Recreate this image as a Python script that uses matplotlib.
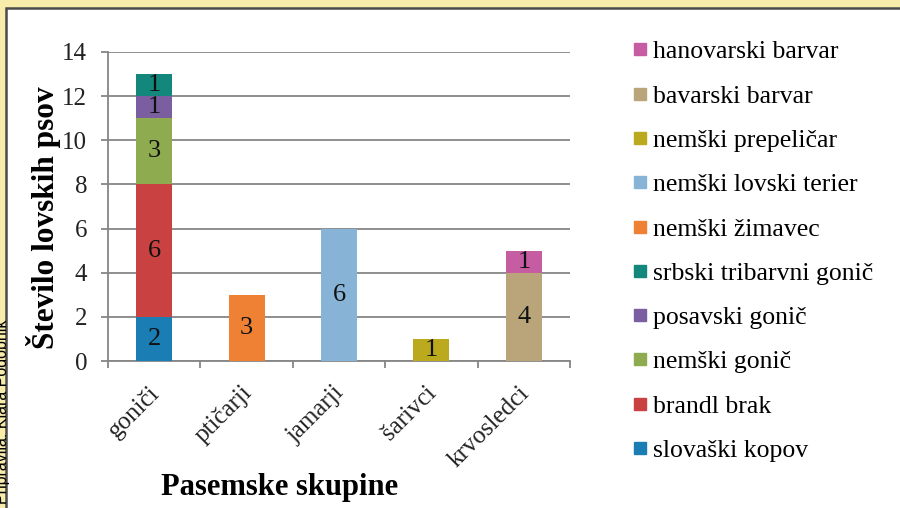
import matplotlib
matplotlib.use("Agg")
import matplotlib.pyplot as plt
from matplotlib.lines import Line2D
from matplotlib.patches import Rectangle
from matplotlib.transforms import ScaledTranslation
import numpy as np

plt.rcParams['font.family'] = ['Liberation Serif', 'DejaVu Serif']

# categories and series (bottom -> top of stack)
groups = ["goniči", "ptičarji", "jamarji", "šarivci", "krvosledci"]
breeds = ["slovaški kopov", "brandl brak", "nemški gonič", "posavski gonič",
          "srbski tribarvni gonič", "nemški žimavec", "nemški lovski terier",
          "nemški prepeličar", "bavarski barvar", "hanovarski barvar"]
counts = [
    [2, 0, 0, 0, 0],
    [6, 0, 0, 0, 0],
    [3, 0, 0, 0, 0],
    [1, 0, 0, 0, 0],
    [1, 0, 0, 0, 0],
    [0, 3, 0, 0, 0],
    [0, 0, 6, 0, 0],
    [0, 0, 0, 1, 0],
    [0, 0, 0, 0, 4],
    [0, 0, 0, 0, 1],
]
colors = ["#1a7db3", "#c94141", "#8eab4f", "#7a5ea0", "#13877b",
          "#ee8134", "#86b3d6", "#bba91e", "#b9a579", "#c65ca2"]

fig = plt.figure(figsize=(9, 5.08), dpi=100)
fig.patch.set_facecolor("#f8ecab")
# white panel with dark border
fig.patches.append(Rectangle((6/900, -0.05), 1.0, 1 - 8/508 + 0.05,
                             transform=fig.transFigure, facecolor="white",
                             edgecolor="#4a4a4a", linewidth=1.8, zorder=-5))
fig.text(10.5/900, 1 - 320/508, "Pripravila: Klara Podobnik", rotation=90,
         ha="right", va="top", fontsize=11.5, family="Liberation Sans")

ax = fig.add_axes([108/900, 1 - 361/508, (570 - 108)/900, (361 - 52)/508])
ax.set_facecolor("white")

x = np.arange(len(groups))
bottom = np.zeros(len(groups))
handles = []
for name, vals, c in zip(breeds, counts, colors):
    vals = np.array(vals, dtype=float)
    ax.bar(x, vals, width=0.39, bottom=bottom, color=c, zorder=3)
    for xi, v, b in zip(x, vals, bottom):
        if v > 0:
            ax.text(xi, b + v / 2, f"{int(v)}", ha="center", va="center",
                    fontsize=19, color="#111111", zorder=4)
    bottom += vals
    handles.append(Line2D([], [], marker="s", linestyle="", markersize=8.5,
                          color=c, label=name))

ax.set_xlim(-0.5, len(groups) - 0.5)
ax.set_ylim(0, 14)
ax.set_yticks(range(0, 15, 2))
ax.grid(axis="y", color="#868686", linewidth=1.3, zorder=1)
ax.set_xticks(x)
ax.set_xticklabels(groups, rotation=45, ha="right", rotation_mode="anchor",
                   fontsize=18, color="#222222")
ax.tick_params(axis="x", length=0, pad=15)
shift = ScaledTranslation(-6/100, 0, fig.dpi_scale_trans)
for lab in ax.get_xticklabels():
    lab.set_transform(lab.get_transform() + shift)
# category boundary ticks
ax.set_xticks(np.arange(-0.5, len(groups), 1), minor=True)
ax.tick_params(axis="x", which="minor", length=5, color="#868686", width=1.3)
ax.tick_params(axis="y", length=5, color="#868686", width=1.3,
               labelsize=18, labelcolor="#222222", pad=10)
for s in ["top", "right"]:
    ax.spines[s].set_visible(False)
for s in ["left", "bottom"]:
    ax.spines[s].set_color("#868686")
    ax.spines[s].set_linewidth(1.3)

ax.set_ylabel("Število lovskih psov", fontsize=22.5, fontweight="bold")
ax.yaxis.set_label_coords((61 - 108) / 462, (361 - 218) / 309)
fig.text(280/900, 1 - 487/508, "Pasemske skupine", ha="center", va="center",
         fontsize=22, fontweight="bold")

fig.legend(handles=handles[::-1], loc="upper left",
           bbox_to_anchor=(621/900, 1 - 30/508), frameon=False,
           fontsize=18.5, labelspacing=0.83, handletextpad=0.15,
           handlelength=0.7, borderaxespad=0)

fig.savefig("out.png", dpi=100, facecolor=fig.get_facecolor())
